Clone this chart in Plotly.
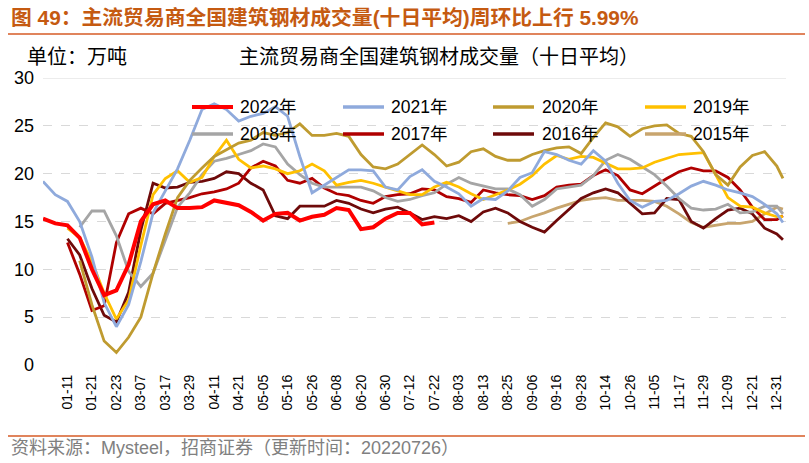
import plotly.graph_objects as go

# x positions are trading-day indices (0 = first trading day of year)
X_IDX = list(range(0, 241, 4)) + [242]

TICK_POS = [8, 16, 24, 32, 40, 48, 56, 64, 72, 80, 88, 96, 104, 112, 120,
            128, 136, 144, 152, 160, 168, 176, 184, 192, 200, 208, 216, 224, 232, 240]
TICK_TEXT = ["01-11", "01-21", "02-23", "03-07", "03-17", "03-29", "04-11", "04-21",
             "05-05", "05-16", "05-26", "06-08", "06-20", "06-30", "07-12", "07-22",
             "08-03", "08-13", "08-25", "09-06", "09-16", "09-28", "10-14", "10-26",
             "11-05", "11-17", "11-29", "12-09", "12-21", "12-31"]

N = None
y2022 = [15.3, 14.8, 14.6, 13.3, 10.0, 7.3, 7.8, 10.5, 15.0, 16.8, 17.2, 16.4, 16.4, 16.5, 17.2,
         16.9, 16.7, 16.0, 15.1, 15.8, 15.9, 15.1, 15.5, 15.7, 16.4, 16.2, 14.2, 14.4, 15.3, 15.9,
         15.9, 14.7, 14.9] + [N] * 29
y2021 = [19.2, 17.8, 17.1, 15.0, 11.3, 6.5, 4.0, 6.3, 10.8, 15.9, 18.2, 20.5, 23.5, 26.7, 27.3,
         26.7, 25.5, 26.0, 26.3, 27.0, 26.0, 21.8, 18.0, 18.8, 19.6, 20.4, 20.4, 20.3, 18.6, 18.3,
         19.7, 20.4, 19.2, 18.6, 17.9, 16.6, 17.4, 17.3, 18.2, 19.6, 20.1, 22.3, 22.0, 21.4, 21.0,
         22.4, 21.3, 19.0, 17.2, 16.5, 17.1, 17.2, 17.9, 18.7, 19.2, 18.8, 18.3, 18.0, 17.6, 16.8,
         15.8, 14.9]
y2020 = [N, N, N, 10.9, 6.3, 2.5, 1.3, 2.9, 5.0, 9.6, 13.7, 17.5, 19.3, 20.6, 21.8,
         22.5, 23.2, 23.5, 24.3, 24.0, 24.3, 25.2, 24.0, 24.0, 24.2, 23.9, 22.0, 20.7, 20.5, 21.0,
         22.0, 23.0, 22.0, 20.8, 21.2, 22.3, 22.6, 21.8, 21.4, 21.4, 22.0, 22.4, 22.7, 22.8, 22.1,
         23.8, 25.3, 24.9, 23.9, 24.7, 25.0, 25.1, 24.2, 23.9, 22.3, 19.9, 18.8, 20.7, 21.9, 22.3,
         20.8, 19.5]
y2019 = [N, N, 14.3, 13.3, 10.8, 7.5, 4.8, 6.8, 12.5, 17.8, 19.5, 20.3, 19.1, 19.6, 21.8,
         23.5, 21.5, 20.6, 20.8, 20.5, 20.0, 20.3, 21.0, 20.3, 18.8, 19.1, 19.3, 19.0, 18.6, 18.2,
         17.8, 17.8, 18.6, 19.1, 18.6, 17.9, 17.3, 17.8, 18.3, 18.9, 19.8, 21.0, 21.9, 21.5, 21.8,
         21.7, 21.1, 20.5, 20.5, 20.6, 21.2, 21.6, 22.0, 22.1, 22.2, 19.9, 17.5, 16.6, 16.5, 15.9,
         15.5, 15.5]
y2018 = [N, N, N, 14.4, 16.1, 16.1, 13.5, 9.8, 8.2, 9.6, 13.0, 16.5, 18.0, 19.9, 21.3,
         21.6, 22.0, 22.4, 23.1, 22.8, 21.0, 19.9, 19.0, 18.6, 18.6, 18.6, 18.6, 18.2, 17.5, 17.1,
         17.3, 17.7, 18.0, 18.9, 19.6, 19.0, 18.7, 18.4, 18.4, 17.8, 16.6, 17.3, 18.4, 18.6, 18.8,
         19.8, 21.4, 22.0, 21.5, 20.7, 19.9, 18.7, 17.4, 16.4, 16.2, 16.3, 16.8, 15.9, 16.0, 16.6,
         16.6, 15.8]
y2017 = [N, N, 12.8, 9.5, 5.7, 6.2, 12.8, 15.8, 16.4, 15.8, 16.9, 17.2, 17.5, 17.9, 18.1,
         18.4, 19.0, 20.6, 21.3, 20.8, 19.3, 19.0, 19.5, 18.5, 17.9, 17.7, 17.2, 16.9, 17.6, 17.8,
         17.9, 18.4, 18.3, 17.6, 17.4, 17.0, 18.3, 18.0, 17.8, 17.7, 17.3, 17.7, 18.6, 18.8, 18.9,
         19.8, 20.4, 19.8, 18.3, 17.9, 18.7, 19.5, 20.2, 20.6, 20.3, 20.3, 19.6, 18.3, 16.5, 15.2,
         15.2, 15.6]
y2016 = [N, N, 13.2, 11.5, 8.0, 5.2, 4.5, 7.6, 14.1, 19.0, 18.5, 18.6, 19.1, 19.2, 19.5,
         20.2, 20.0, 19.0, 18.3, 15.6, 15.3, 16.6, 16.6, 16.6, 17.2, 16.9, 16.3, 15.9, 16.3, 16.5,
         15.9, 15.2, 15.5, 15.3, 15.6, 15.0, 16.0, 16.4, 15.9, 15.0, 14.4, 13.9, 15.1, 16.3, 17.4,
         18.0, 18.4, 18.0, 16.9, 15.8, 15.9, 17.4, 17.3, 15.0, 14.3, 15.3, 16.2, 16.4, 15.8, 14.3,
         13.7, 13.1]
y2015 = [N] * 38 + [14.8, 15.0, 15.5, 15.9, 16.4, 16.8, 17.2, 17.4, 17.5, 17.2, 17.2, 17.2,
                    17.1, 16.6, 15.8, 14.9, 14.4, 14.6, 14.8, 14.8, 15.0, 15.8, 16.5, 16.3]

NAMES = ["2022年", "2021年", "2020年", "2019年", "2018年", "2017年", "2016年", "2015年"]
SERIES = [y2022, y2021, y2020, y2019, y2018, y2017, y2016, y2015]
COLORS = ["#FF0000", "#8FAADC", "#BF9B30", "#FFC000", "#A5A5A5", "#B00000", "#6E0A0A", "#C8A56E"]
WIDTHS = [4, 2.8, 2.8, 2.8, 2.8, 2.8, 2.8, 2.8]

FONT = "Liberation Sans, Arial, Noto Sans CJK SC, sans-serif"

# pixel geometry of the plot area (809x463 canvas)
L, R, T, B = 43, 786, 78, 365
def px(xp):
    return (xp - L) / (R - L)
def py(yp):
    return (B - yp) / (B - T)

fig = go.Figure()
# draw older years first so 2022 sits on top
for k in reversed(range(len(NAMES))):
    fig.add_trace(go.Scatter(
        x=X_IDX, y=SERIES[k], name=NAMES[k], mode="lines",
        line=dict(color=COLORS[k], width=WIDTHS[k]),
        showlegend=False, connectgaps=False, hoverinfo="skip"))

fig.update_layout(
    width=809, height=463,
    margin=dict(l=L, r=809 - R, t=T, b=463 - B, pad=0),
    plot_bgcolor="white", paper_bgcolor="white",
    font=dict(family=FONT, color="black"),
    showlegend=False,
    xaxis=dict(range=[0, 243], tickmode="array", tickvals=TICK_POS, ticktext=TICK_TEXT,
               tickangle=-90, tickfont=dict(size=14, color="black"), showgrid=False,
               zeroline=False, showline=False, ticks="", ticklabelstandoff=6),
    yaxis=dict(range=[0, 30], dtick=5, tickfont=dict(size=18, color="black"),
               showgrid=True, gridcolor="#D9D9D9", griddash="dash", gridwidth=1,
               zeroline=False, showline=False, ticks="", ticklabelstandoff=8),
)

# solid top gridline
fig.add_shape(type="line", xref="paper", yref="y", x0=0, x1=1, y0=30, y1=30,
              line=dict(color="#D9D9D9", width=1))
# orange rules
fig.add_shape(type="line", xref="paper", yref="paper", x0=px(8), x1=px(805), y0=py(34), y1=py(34),
              line=dict(color="#E0845C", width=2))
fig.add_shape(type="line", xref="paper", yref="paper", x0=px(8), x1=px(805), y0=py(436), y1=py(436),
              line=dict(color="#E0845C", width=2))

# manual legend (2 rows x 4 columns)
COL_SAMPLE_X = [192, 343, 493, 645]
COL_TEXT_X = [238, 389, 540, 691]
ROW_Y = [107, 134]
for k in range(len(NAMES)):
    r, c = divmod(k, 4)
    fig.add_shape(type="line", xref="paper", yref="paper",
                  x0=px(COL_SAMPLE_X[c]), x1=px(COL_SAMPLE_X[c] + 41),
                  y0=py(ROW_Y[r]), y1=py(ROW_Y[r]),
                  line=dict(color=COLORS[k], width=4 if k == 0 else 3.3))
    fig.add_annotation(xref="paper", yref="paper", x=px(COL_TEXT_X[c]), y=py(ROW_Y[r]),
                       xanchor="left", yanchor="middle", text=NAMES[k], showarrow=False,
                       font=dict(size=17.5, color="black", family=FONT))

fig.add_annotation(xref="paper", yref="paper", x=px(9), y=py(18), xanchor="left", yanchor="middle",
                   text="<b>图 49：主流贸易商全国建筑钢材成交量(十日平均)周环比上行 5.99%</b>",
                   showarrow=False, font=dict(size=20.8, color="#C55A11", family=FONT))
fig.add_annotation(xref="paper", yref="paper", x=px(25), y=py(57), xanchor="left", yanchor="middle",
                   text="单位：万吨", showarrow=False, font=dict(size=20, color="black", family=FONT))
fig.add_annotation(xref="paper", yref="paper", x=px(439), y=py(57), xanchor="center", yanchor="middle",
                   text="主流贸易商全国建筑钢材成交量（十日平均）", showarrow=False,
                   font=dict(size=20, color="black", family=FONT))
fig.add_annotation(xref="paper", yref="paper", x=px(9), y=py(448), xanchor="left", yanchor="middle",
                   text="资料来源：Mysteel，招商证券（更新时间：20220726）", showarrow=False,
                   font=dict(size=18, color="#808080", family=FONT))

fig.write_html("out.html", config={"displayModeBar": False},
               post_script="document.body.style.margin='0px';document.body.style.padding='0px';")
